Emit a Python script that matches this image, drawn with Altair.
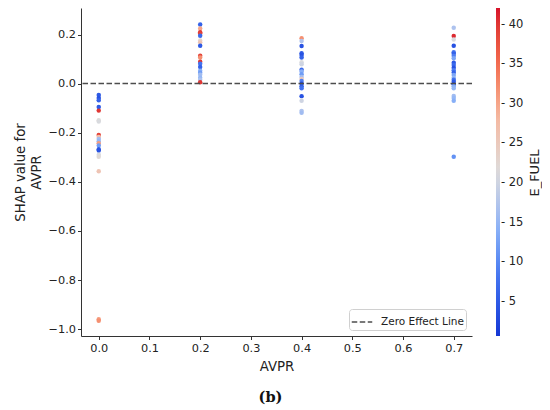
import altair as alt
import pandas as pd

# cluster at AVPR = 0.0
shap_00 = [-0.046, -0.059, -0.068, -0.095, -0.110, -0.149, -0.154, -0.209, -0.217, -0.226,
           -0.235, -0.243, -0.252, -0.267, -0.272, -0.290, -0.298, -0.357, -0.960, -0.966]
fuel_00 = [5, 4, 6, 5, 40, 22, 21, 39, 27, 16, 15, 31, 12, 5, 4, 21, 22, 26, 31, 32]

# cluster at AVPR = 0.2
shap_02 = [0.241, 0.225, 0.209, 0.204, 0.195, 0.176, 0.168, 0.154, 0.114, 0.106,
           0.089, 0.081, 0.068, 0.052, 0.044, 0.036, 0.024, 0.016, 0.006]
fuel_02 = [6, 30, 40, 39, 7, 23, 26, 5, 39, 32, 40, 8, 6, 14, 12, 16, 15, 17, 40]

# cluster at AVPR = 0.4
shap_04 = [0.185, 0.174, 0.153, 0.124, 0.117, 0.106, 0.087, 0.079, 0.057, 0.049, 0.038,
           0.027, 0.019, 0.011, 0.000, -0.011, -0.019, -0.051, -0.070, -0.111, -0.119]
fuel_04 = [32, 17, 4, 5, 4, 6, 21, 20, 7, 14, 12, 16, 25, 9, 3, 6, 8, 4, 20, 17, 16]

# cluster at AVPR = 0.7
shap_07 = [0.228, 0.194, 0.180, 0.154, 0.128, 0.122, 0.113, 0.103, 0.085, 0.076, 0.065, 0.054,
           0.045, 0.035, 0.024, 0.016, 0.008, -0.003, -0.011, -0.019, -0.050, -0.059, -0.070, -0.298]
fuel_07 = [17, 41, 21, 4, 8, 6, 9, 13, 5, 7, 4, 9, 6, 13, 15, 8, 5, 3, 14, 15, 16, 15, 14, 11]

avpr_levels = [0.0, 0.2, 0.4, 0.7]
x_ticks = [0.0, 0.1, 0.2, 0.3, 0.4, 0.5, 0.6, 0.7]
y_ticks = [-1.0, -0.8, -0.6, -0.4, -0.2, 0.0, 0.2]
cbar_ticks = [5, 10, 15, 20, 25, 30, 35, 40]

rows = []
for lvl, sv, fv in zip(avpr_levels, [shap_00, shap_02, shap_04, shap_07],
                       [fuel_00, fuel_02, fuel_04, fuel_07]):
    for s, f in zip(sv, fv):
        rows.append({"AVPR": lvl, "SHAP": s, "E_FUEL": f})
df = pd.DataFrame(rows)
zero_df = pd.DataFrame({"y": [0.0], "label": ["Zero Effect Line"]})
cbar_title_df = pd.DataFrame({"t": ["E_FUEL"]})

FONT = "DejaVu Sans"
cmap = ["#1536d4", "#3f6fee", "#8db4f7", "#dcdcdc", "#f5b8a0", "#f3694e", "#d7112b"]

points = alt.Chart(df).mark_circle(size=20, opacity=1).encode(
    x=alt.X("AVPR:Q",
            scale=alt.Scale(domain=[-0.035, 0.736], nice=False, zero=False),
            axis=alt.Axis(values=x_ticks, format=".1f", title="AVPR", grid=False,
                          tickSize=3.5, labelPadding=3, titlePadding=6)),
    y=alt.Y("SHAP:Q",
            scale=alt.Scale(domain=[-1.028, 0.308], nice=False, zero=False),
            axis=alt.Axis(values=y_ticks, format=".1f", title=["SHAP value for", "AVPR"],
                          grid=False, tickSize=3.5, labelPadding=2, titlePadding=5,
                          titleLineHeight=16)),
    color=alt.Color("E_FUEL:Q",
                    scale=alt.Scale(domain=[0.7, 42.1], range=cmap, nice=False, zero=False),
                    legend=alt.Legend(orient="none", legendX=415, legendY=0,
                                      direction="vertical", gradientLength=328,
                                      gradientThickness=4, gradientStrokeWidth=0,
                                      values=cbar_ticks, labelOverlap=False,
                                      labelExpr="'- ' + datum.label", labelOffset=1,
                                      labelFontSize=11.5, labelFont=FONT, labelColor="#222",
                                      title=None)),
)

cbar_title = alt.Chart(cbar_title_df).mark_text(
    angle=270, font=FONT, fontSize=13, color="#222", align="center", baseline="middle"
).encode(text="t:N", x=alt.value(454), y=alt.value(165))

zero_line = alt.Chart(zero_df).mark_rule(color="#4d4d4d", strokeWidth=1.5).encode(
    y=alt.Y("y:Q"),
    strokeDash=alt.StrokeDash("label:N",
                              scale=alt.Scale(range=[[5.5, 2.5]]),
                              legend=alt.Legend(title=None, orient="bottom-right", offset=6,
                                                symbolType="stroke", symbolStrokeColor="#4d4d4d",
                                                symbolStrokeWidth=1.5, symbolSize=420,
                                                labelFontSize=10.5, labelFont=FONT,
                                                labelOffset=8,
                                                labelColor="#222", fillColor="white",
                                                strokeColor="#d0d0d0", cornerRadius=3,
                                                padding=2)),
)

chart = alt.layer(points, zero_line, cbar_title).properties(
    width=391, height=328,
    autosize=alt.AutoSizeParams(type="none"),
    padding={"left": 73, "top": 0, "right": 70, "bottom": 70},
    title=alt.TitleParams("(b)", orient="bottom", font="DejaVu Serif", fontSize=14.5,
                          fontWeight="bold", color="#111", anchor="middle", dx=-6, offset=18),
).configure_view(stroke=None).configure_axis(
    domainColor="#333", tickColor="#333", labelColor="#222", titleColor="#222",
    labelFont=FONT, titleFont=FONT, labelFontSize=11.3, titleFontSize=13.3,
    titleFontWeight="normal",
)

chart.save("out.html", embed_options={"renderer": "svg", "actions": False})
